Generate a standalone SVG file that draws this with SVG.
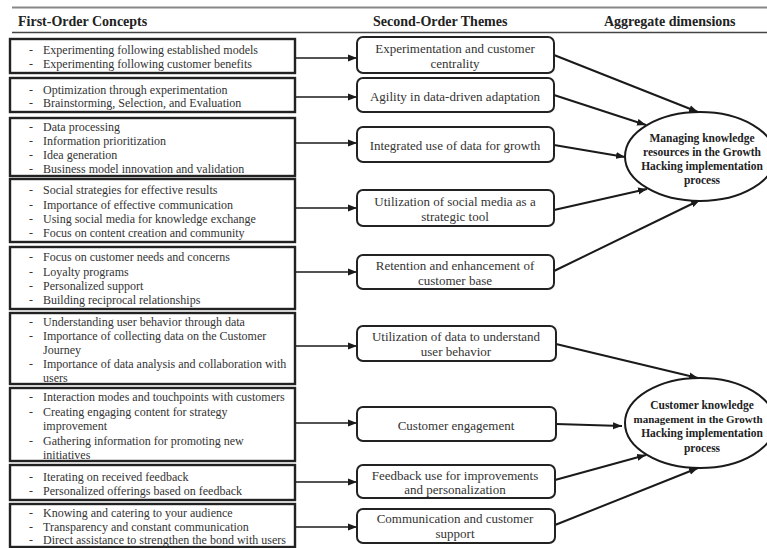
<svg xmlns="http://www.w3.org/2000/svg" width="767" height="548" viewBox="0 0 767 548">
<defs>
<marker id="ah" markerUnits="userSpaceOnUse" markerWidth="10" markerHeight="8" refX="9" refY="4" orient="auto">
<path d="M0,0.5 L9,4 L0,7.5 Z" fill="#1a1a1a"/>
</marker>
<style>
.hd{font-family:"Liberation Serif","Times New Roman",serif;font-weight:bold;font-size:14px;fill:#222}
.lb{fill:#fff;stroke:#222;stroke-width:2.4}
.mb{fill:#fff;stroke:#222;stroke-width:2}
.lt{font-family:"Liberation Serif","Times New Roman",serif;font-size:12px;fill:#333}
.mt{font-family:"Liberation Serif","Times New Roman",serif;font-size:13px;fill:#333;text-anchor:middle}
.et{font-family:"Liberation Serif","Times New Roman",serif;font-weight:bold;font-size:11.5px;fill:#222;text-anchor:middle}
.el{fill:#fff;stroke:#1a1a1a;stroke-width:2}
.cn{stroke:#1a1a1a;stroke-width:2;fill:none;marker-end:url(#ah)}
.cl{stroke:#1a1a1a;stroke-width:1.3;fill:none;marker-end:url(#ah)}
</style>
</defs>
<rect width="767" height="548" fill="#fff"/>
<g id="header">
<line x1="12" y1="7.5" x2="767" y2="7.5" stroke="#888" stroke-width="2"/>
<line x1="12" y1="32.5" x2="767" y2="32.5" stroke="#444" stroke-width="1.5"/>
<text class="hd" x="18" y="26">First-Order Concepts</text>
<text class="hd" x="373" y="26">Second-Order Themes</text>
<text class="hd" x="604" y="26">Aggregate dimensions</text>
</g>
<g id="connectors">
<line class="cl" x1="295" y1="58" x2="357" y2="58"/>
<line class="cl" x1="295" y1="97" x2="357" y2="97"/>
<line class="cl" x1="295" y1="143" x2="357" y2="143"/>
<line class="cl" x1="295" y1="208" x2="357" y2="208"/>
<line class="cl" x1="295" y1="272" x2="357" y2="272"/>
<line class="cl" x1="295" y1="346" x2="357" y2="346"/>
<line class="cl" x1="295" y1="423" x2="357" y2="423"/>
<line class="cl" x1="295" y1="482" x2="357" y2="482"/>
<line class="cl" x1="295" y1="527" x2="357" y2="527"/>
<line class="cn" x1="554" y1="55" x2="698" y2="112"/>
<line class="cn" x1="554" y1="95" x2="646" y2="125"/>
<line class="cn" x1="554" y1="145" x2="625" y2="157"/>
<line class="cn" x1="554" y1="210" x2="647" y2="189"/>
<line class="cn" x1="554" y1="271" x2="700" y2="200"/>
<line class="cn" x1="556" y1="344" x2="698" y2="378"/>
<line class="cn" x1="556" y1="424" x2="622" y2="426"/>
<line class="cn" x1="555" y1="480" x2="646" y2="455"/>
<line class="cn" x1="555" y1="525" x2="698" y2="468"/>
</g>
<g id="c1">
<rect class="lb" x="10" y="39" width="285" height="34"/>
<text class="lt" x="29" y="54">-</text><text class="lt" x="43" y="54">Experimenting following established models</text>
<text class="lt" x="29" y="68">-</text><text class="lt" x="43" y="68">Experimenting following customer benefits</text>
</g>
<g id="c2">
<rect class="lb" x="10" y="78" width="285" height="34"/>
<text class="lt" x="29" y="94">-</text><text class="lt" x="43" y="94">Optimization through experimentation</text>
<text class="lt" x="29" y="107">-</text><text class="lt" x="43" y="107">Brainstorming, Selection, and Evaluation</text>
</g>
<g id="c3">
<rect class="lb" x="10" y="118" width="285" height="58"/>
<text class="lt" x="29" y="131">-</text><text class="lt" x="43" y="131">Data processing</text>
<text class="lt" x="29" y="145">-</text><text class="lt" x="43" y="145">Information prioritization</text>
<text class="lt" x="29" y="159">-</text><text class="lt" x="43" y="159">Idea generation</text>
<text class="lt" x="29" y="173">-</text><text class="lt" x="43" y="173">Business model innovation and validation</text>
</g>
<g id="c4">
<rect class="lb" x="10" y="179" width="285" height="63"/>
<text class="lt" x="29" y="194">-</text><text class="lt" x="43" y="194">Social strategies for effective results</text>
<text class="lt" x="29" y="209">-</text><text class="lt" x="43" y="209">Importance of effective communication</text>
<text class="lt" x="29" y="223">-</text><text class="lt" x="43" y="223">Using social media for knowledge exchange</text>
<text class="lt" x="29" y="237">-</text><text class="lt" x="43" y="237">Focus on content creation and community</text>
</g>
<g id="c5">
<rect class="lb" x="10" y="247" width="285" height="62"/>
<text class="lt" x="29" y="261">-</text><text class="lt" x="43" y="261">Focus on customer needs and concerns</text>
<text class="lt" x="29" y="276">-</text><text class="lt" x="43" y="276">Loyalty programs</text>
<text class="lt" x="29" y="290">-</text><text class="lt" x="43" y="290">Personalized support</text>
<text class="lt" x="29" y="304">-</text><text class="lt" x="43" y="304">Building reciprocal relationships</text>
</g>
<g id="c6">
<rect class="lb" x="10" y="313" width="285" height="71"/>
<text class="lt" x="29" y="326">-</text><text class="lt" x="43" y="326">Understanding user behavior through data</text>
<text class="lt" x="29" y="340">-</text><text class="lt" x="43" y="340">Importance of collecting data on the Customer</text>
<text class="lt" x="43" y="354">Journey</text>
<text class="lt" x="29" y="368">-</text><text class="lt" x="43" y="368">Importance of data analysis and collaboration with</text>
<text class="lt" x="43" y="382">users</text>
</g>
<g id="c7">
<rect class="lb" x="10" y="388" width="285" height="73"/>
<text class="lt" x="29" y="401">-</text><text class="lt" x="43" y="401">Interaction modes and touchpoints with customers</text>
<text class="lt" x="29" y="415.5">-</text><text class="lt" x="43" y="415.5">Creating engaging content for strategy</text>
<text class="lt" x="43" y="430">improvement</text>
<text class="lt" x="29" y="444.5">-</text><text class="lt" x="43" y="444.5">Gathering information for promoting new</text>
<text class="lt" x="43" y="459">initiatives</text>
</g>
<g id="c8">
<rect class="lb" x="10" y="465" width="285" height="35"/>
<text class="lt" x="29" y="481">-</text><text class="lt" x="43" y="481">Iterating on received feedback</text>
<text class="lt" x="29" y="495">-</text><text class="lt" x="43" y="495">Personalized offerings based on feedback</text>
</g>
<g id="c9">
<rect class="lb" x="10" y="504" width="285" height="43"/>
<text class="lt" x="29" y="517">-</text><text class="lt" x="43" y="517">Knowing and catering to your audience</text>
<text class="lt" x="29" y="531">-</text><text class="lt" x="43" y="531">Transparency and constant communication</text>
<text class="lt" x="29" y="544">-</text><text class="lt" x="43" y="544">Direct assistance to strengthen the bond with users</text>
</g>
<g id="t1">
<rect class="mb" x="357" y="37" width="197" height="36" rx="6"/>
<text class="mt" x="455" y="52.5">Experimentation and customer</text>
<text class="mt" x="455" y="67.5">centrality</text>
</g>
<g id="t2">
<rect class="mb" x="357" y="78" width="197" height="34" rx="6"/>
<text class="mt" x="455" y="100.5">Agility in data-driven adaptation</text>
</g>
<g id="t3">
<rect class="mb" x="357" y="127" width="197" height="35" rx="6"/>
<text class="mt" x="455" y="149.5">Integrated use of data for growth</text>
</g>
<g id="t4">
<rect class="mb" x="357" y="190" width="197" height="36" rx="6"/>
<text class="mt" x="455" y="206">Utilization  of social media as a</text>
<text class="mt" x="455" y="220.5">strategic tool</text>
</g>
<g id="t5">
<rect class="mb" x="357" y="255" width="197" height="34" rx="6"/>
<text class="mt" x="455" y="269.5">Retention and enhancement of</text>
<text class="mt" x="455" y="284.5">customer base</text>
</g>
<g id="t6">
<rect class="mb" x="357" y="326" width="199" height="35" rx="6"/>
<text class="mt" x="456" y="341">Utilization  of data to understand</text>
<text class="mt" x="456" y="356">user behavior</text>
</g>
<g id="t7">
<rect class="mb" x="357" y="407" width="199" height="34" rx="6"/>
<text class="mt" x="456" y="429.5">Customer engagement</text>
</g>
<g id="t8">
<rect class="mb" x="357" y="465" width="198" height="33" rx="6"/>
<text class="mt" x="455" y="479.5">Feedback use for improvements</text>
<text class="mt" x="455" y="494">and personalization</text>
</g>
<g id="t9">
<rect class="mb" x="357" y="509" width="198" height="34" rx="6"/>
<text class="mt" x="455" y="522.5">Communication and customer</text>
<text class="mt" x="455" y="538">support</text>
</g>
<g id="a1">
<ellipse class="el" cx="700" cy="156.5" rx="75" ry="44.5"/>
<text class="et" x="702" y="142">Managing knowledge</text>
<text class="et" x="702" y="156">resources in the Growth</text>
<text class="et" x="702" y="170">Hacking implementation</text>
<text class="et" x="702" y="184">process</text>
</g>
<g id="a2">
<ellipse class="el" cx="700" cy="423" rx="75" ry="45"/>
<text class="et" x="702" y="409">Customer knowledge</text>
<text class="et" x="698" y="423" style="font-size:11px">management in the Growth</text>
<text class="et" x="702" y="437">Hacking implementation</text>
<text class="et" x="702" y="452">process</text>
</g>
</svg>
